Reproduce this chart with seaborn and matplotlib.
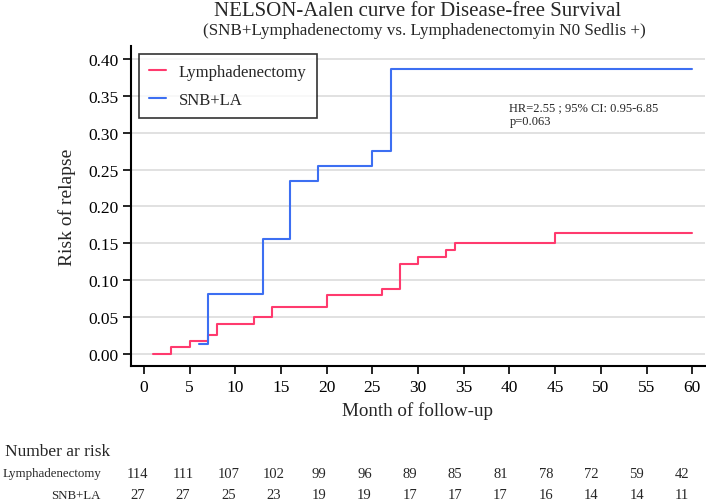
import numpy as np
import pandas as pd
import matplotlib.pyplot as plt
import seaborn as sns

# step curves
lymph_month = [1, 3, 5, 7, 8, 12, 14, 20, 26, 28, 30, 33, 34, 45, 60]
lymph_risk = [0.0, 0.009, 0.017, 0.026, 0.040, 0.050, 0.064, 0.080, 0.088,
              0.122, 0.131, 0.141, 0.150, 0.164, 0.164]
snb_month = [6, 7, 13, 16, 19, 25, 27, 60]
snb_risk = [0.014, 0.082, 0.156, 0.235, 0.255, 0.275, 0.387, 0.387]

risk_months = [0, 5, 10, 15, 20, 25, 30, 35, 40, 45, 50, 55, 60]
lymph_at_risk = [114, 111, 107, 102, 99, 96, 89, 85, 81, 78, 72, 59, 42]
snb_at_risk = [27, 27, 25, 23, 19, 19, 17, 17, 17, 16, 14, 14, 11]

groups = ['Lymphadenectomy', 'SNB+LA']
colors = ['#ff3a6e', '#3d6ff2']

df = pd.concat([
    pd.DataFrame({'month': lymph_month, 'risk': lymph_risk, 'group': groups[0]}),
    pd.DataFrame({'month': snb_month, 'risk': snb_risk, 'group': groups[1]}),
], ignore_index=True)

sns.set_theme(style='white')
plt.rcParams['font.family'] = ['Liberation Serif', 'DejaVu Serif']

W, H = 706, 502
fig = plt.figure(figsize=(W / 100, H / 100), dpi=100)
ax = fig.add_axes([131 / W, 1 - 367 / H, (705 - 131) / W, (367 - 47) / H])

sns.lineplot(data=df, x='month', y='risk', hue='group', hue_order=groups,
             palette=colors, drawstyle='steps-post', estimator=None,
             linewidth=1.5, ax=ax)

ax.set_xlim(-1.42, 61.4)
ax.set_ylim(-0.0163, 0.4176)
ax.set_xticks(np.arange(0, 61, 5))
ax.set_yticks(np.arange(0, 0.41, 0.05))
ax.set_yticklabels([f'{v:.2f}' for v in np.arange(0, 0.41, 0.05)])
ax.yaxis.grid(True, color='#dcdcdc', linewidth=1.2)
ax.xaxis.grid(False)
for s in ['top', 'right']:
    ax.spines[s].set_visible(False)
for s in ['left', 'bottom']:
    ax.spines[s].set_color('black')
    ax.spines[s].set_linewidth(1.5)
ax.tick_params(axis='both', direction='out', length=6, width=1.2,
               color='black', labelsize=12.5, labelcolor='black',
               left=True, bottom=True, pad=3)
ax.set_xlabel('Month of follow-up', fontsize=13.7, labelpad=5)
ax.set_ylabel('Risk of relapse', fontsize=14, labelpad=9)

leg = ax.legend(loc='upper left', bbox_to_anchor=(8 / 574, (367 - 55) / 320),
                borderaxespad=0, fontsize=12, frameon=True, fancybox=False,
                edgecolor='black', handlelength=1.0, handletextpad=0.8,
                borderpad=0.6, labelspacing=0.7)
leg.get_frame().set_linewidth(1.2)
leg.set_title(None)

ax.text(40.0, 0.335, 'HR=2.55 ; 95% CI: 0.95-6.85', fontsize=9,
        ha='left', va='center')
ax.text(40.0, 0.316, 'p=0.063', fontsize=9, ha='left', va='center')

fig.text(418 / W, 1 - 12 / H, 'NELSON-Aalen curve for Disease-free Survival',
         ha='center', va='center', fontsize=15)
fig.text(424 / W, 1 - 31 / H,
         '(SNB+Lymphadenectomy vs. Lymphadenectomyin N0 Sedlis +)',
         ha='center', va='center', fontsize=12.3)

# number at risk table
fig.text(5 / W, 1 - 452 / H, 'Number ar risk', ha='left', va='center', fontsize=12.5)
fig.text(101 / W, 1 - 474 / H, groups[0], ha='right', va='center', fontsize=9.3)
fig.text(101 / W, 1 - 496 / H, groups[1], ha='right', va='center', fontsize=9.3)
for m, a, b in zip(risk_months, lymph_at_risk, snb_at_risk):
    xp = (137.7 + 9.07 * m) / W
    fig.text(xp, 1 - 474 / H, str(a), ha='center', va='center', fontsize=10.5)
    fig.text(xp, 1 - 496 / H, str(b), ha='center', va='center', fontsize=10.5)

fig.savefig('out.png', dpi=100)
